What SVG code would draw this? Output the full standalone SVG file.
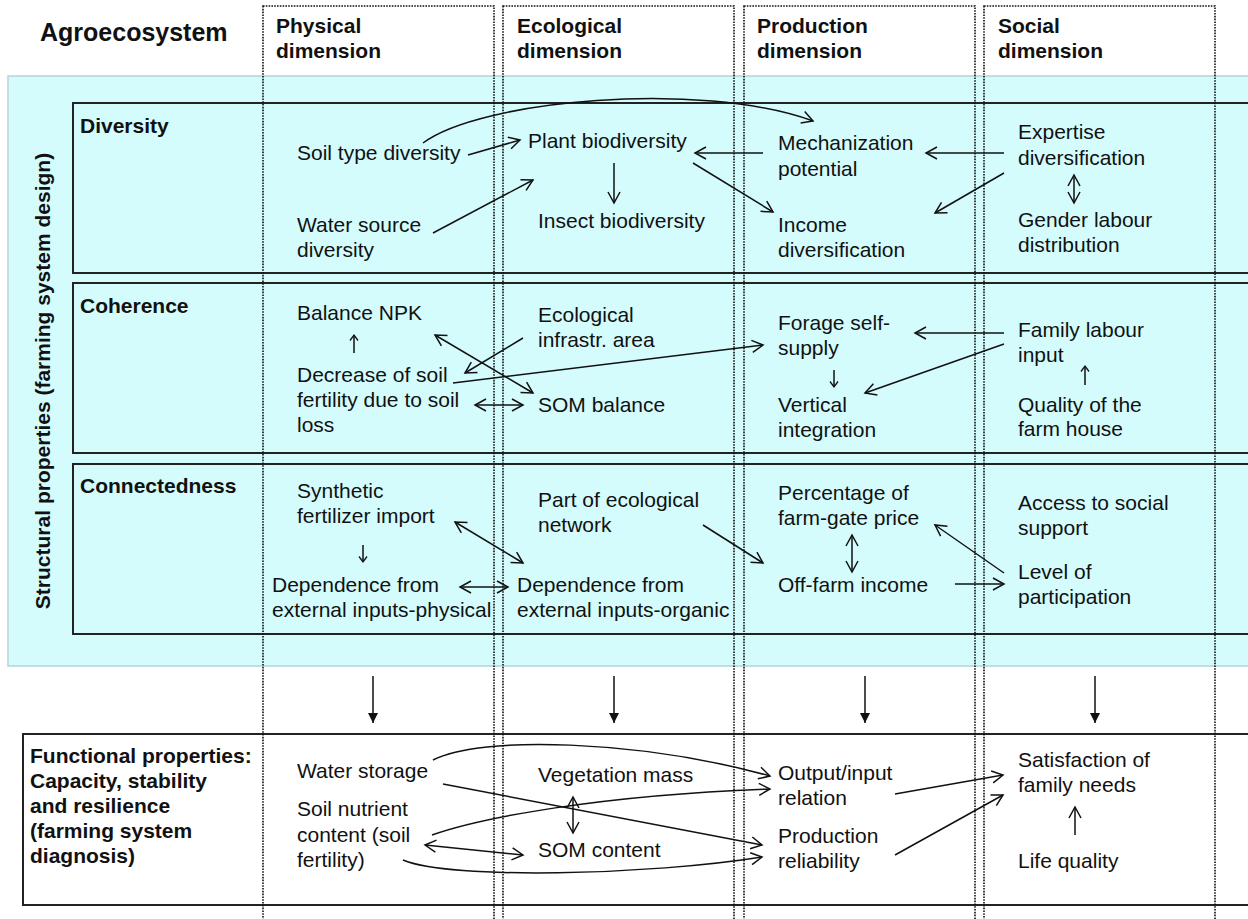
<svg xmlns="http://www.w3.org/2000/svg" width="1248" height="919" viewBox="0 0 1248 919">
<defs>
<style>
.t{font-family:"Liberation Sans",Arial,sans-serif;font-size:21px;fill:#111}
.b{font-weight:bold}
.h{font-size:25px}
.c{fill:none;stroke:#111;stroke-width:1.5}
.dot{fill:none;stroke:#111;stroke-width:1.6;stroke-dasharray:1.6 1.2}
.box{fill:none;stroke:#222;stroke-width:2}
</style>
<marker id="oa" markerUnits="userSpaceOnUse" markerWidth="16" markerHeight="16" refX="12" refY="7" orient="auto-start-reverse" overflow="visible"><path d="M1,1 L12,7 L1,13" fill="none" stroke="#111" stroke-width="1.5"/></marker>
<marker id="sa" markerUnits="userSpaceOnUse" markerWidth="10" markerHeight="10" refX="6" refY="4.5" orient="auto-start-reverse" overflow="visible"><path d="M0.5,0.5 L6,4.5 L0.5,8.5" fill="none" stroke="#111" stroke-width="1.3"/></marker>
<marker id="fa" markerUnits="userSpaceOnUse" markerWidth="12" markerHeight="12" refX="10" refY="5" orient="auto" overflow="visible"><path d="M0,0 L10,5 L0,10 z" fill="#111"/></marker>
</defs>

<rect x="0" y="0" width="1248" height="919" fill="#fff"/>
<g id="structural-panel">
<rect x="8" y="76" width="1260" height="590" fill="#d4fcfd" stroke="#b6d2d8" stroke-width="1.5"/>
<text class="t b" transform="translate(50,381) rotate(-90)" text-anchor="middle">Structural properties (farming system design)</text>
</g>
<g id="row-diversity"><rect class="box" x="73" y="103" width="1200" height="170"/><text class="t b" x="80" y="133">Diversity</text></g>
<g id="row-coherence"><rect class="box" x="73" y="283" width="1200" height="170"/><text class="t b" x="80" y="313">Coherence</text></g>
<g id="row-connectedness"><rect class="box" x="73" y="464" width="1200" height="170"/><text class="t b" x="80" y="493">Connectedness</text></g>
<g id="functional-panel"><rect class="box" x="23" y="734" width="1250" height="171"/>
<text class="t b" x="30" y="763">Functional properties:</text>
<text class="t b" x="30" y="788">Capacity, stability</text>
<text class="t b" x="30" y="813">and resilience</text>
<text class="t b" x="30" y="838">(farming system</text>
<text class="t b" x="30" y="863">diagnosis)</text>
</g>

<g id="title"><text class="t b h" x="40" y="41">Agroecosystem</text></g>
<g id="col-physical"><rect class="dot" x="263" y="6" width="231" height="950"/><text class="t b" x="276" y="33">Physical</text><text class="t b" x="276" y="58">dimension</text></g>
<g id="col-ecological"><rect class="dot" x="503" y="6" width="231" height="950"/><text class="t b" x="517" y="33">Ecological</text><text class="t b" x="517" y="58">dimension</text></g>
<g id="col-production"><rect class="dot" x="744" y="6" width="231" height="950"/><text class="t b" x="757" y="33">Production</text><text class="t b" x="757" y="58">dimension</text></g>
<g id="col-social"><rect class="dot" x="984" y="6" width="231" height="950"/><text class="t b" x="998" y="33">Social</text><text class="t b" x="998" y="58">dimension</text></g>

<g id="n-soil-type"><text class="t" x="297" y="160">Soil type diversity</text></g>
<g id="n-water-source"><text class="t" x="297" y="232">Water source</text><text class="t" x="297" y="257">diversity</text></g>
<g id="n-plant-bio"><text class="t" x="528" y="148">Plant biodiversity</text></g>
<g id="n-insect-bio"><text class="t" x="538" y="228">Insect biodiversity</text></g>
<g id="n-mechanization"><text class="t" x="778" y="150">Mechanization</text><text class="t" x="778" y="176">potential</text></g>
<g id="n-income-div"><text class="t" x="778" y="232">Income</text><text class="t" x="778" y="257">diversification</text></g>
<g id="n-expertise"><text class="t" x="1018" y="139">Expertise</text><text class="t" x="1018" y="165">diversification</text></g>
<g id="n-gender"><text class="t" x="1018" y="227">Gender labour</text><text class="t" x="1018" y="252">distribution</text></g>

<g id="n-npk"><text class="t" x="297" y="320">Balance NPK</text></g>
<g id="n-decrease"><text class="t" x="297" y="382">Decrease of soil</text><text class="t" x="297" y="407">fertility due to soil</text><text class="t" x="297" y="432">loss</text></g>
<g id="n-eco-infra"><text class="t" x="538" y="322">Ecological</text><text class="t" x="538" y="347">infrastr. area</text></g>
<g id="n-som-balance"><text class="t" x="538" y="412">SOM balance</text></g>
<g id="n-forage"><text class="t" x="778" y="330">Forage self-</text><text class="t" x="778" y="355">supply</text></g>
<g id="n-vertical"><text class="t" x="778" y="412">Vertical</text><text class="t" x="778" y="437">integration</text></g>
<g id="n-family-labour"><text class="t" x="1018" y="337">Family labour</text><text class="t" x="1018" y="362">input</text></g>
<g id="n-quality-house"><text class="t" x="1018" y="412">Quality of the</text><text class="t" x="1018" y="436">farm house</text></g>

<g id="n-synthetic"><text class="t" x="297" y="498">Synthetic</text><text class="t" x="297" y="523">fertilizer import</text></g>
<g id="n-dep-physical"><text class="t" x="272" y="592">Dependence from</text><text class="t" x="272" y="617">external inputs-physical</text></g>
<g id="n-eco-network"><text class="t" x="538" y="507">Part of ecological</text><text class="t" x="538" y="532">network</text></g>
<g id="n-dep-organic"><text class="t" x="517" y="592">Dependence from</text><text class="t" x="517" y="617">external inputs-organic</text></g>
<g id="n-farmgate"><text class="t" x="778" y="500">Percentage of</text><text class="t" x="778" y="525">farm-gate price</text></g>
<g id="n-offfarm"><text class="t" x="778" y="592">Off-farm income</text></g>
<g id="n-social-support"><text class="t" x="1018" y="510">Access to social</text><text class="t" x="1018" y="535">support</text></g>
<g id="n-participation"><text class="t" x="1018" y="579">Level of</text><text class="t" x="1018" y="604">participation</text></g>

<g id="n-water-storage"><text class="t" x="297" y="778">Water storage</text></g>
<g id="n-soil-nutrient"><text class="t" x="297" y="816">Soil nutrient</text><text class="t" x="297" y="842">content (soil</text><text class="t" x="297" y="867">fertility)</text></g>
<g id="n-vegetation"><text class="t" x="538" y="782">Vegetation mass</text></g>
<g id="n-som-content"><text class="t" x="538" y="857">SOM content</text></g>
<g id="n-output-input"><text class="t" x="778" y="780">Output/input</text><text class="t" x="778" y="805">relation</text></g>
<g id="n-prod-reliability"><text class="t" x="778" y="843">Production</text><text class="t" x="778" y="868">reliability</text></g>
<g id="n-satisfaction"><text class="t" x="1018" y="767">Satisfaction of</text><text class="t" x="1018" y="792">family needs</text></g>
<g id="n-life-quality"><text class="t" x="1018" y="868">Life quality</text></g>

<g id="connectors">
<path class="c" marker-end="url(#oa)" d="M423,143 C480,100 700,80 813,121"/>
<line class="c" marker-end="url(#oa)" x1="468" y1="155" x2="520" y2="140"/>
<line class="c" marker-end="url(#oa)" x1="433" y1="233" x2="533" y2="180"/>
<line class="c" marker-end="url(#oa)" x1="614" y1="163" x2="614" y2="203"/>
<line class="c" marker-end="url(#oa)" x1="763" y1="153" x2="695" y2="153"/>
<line class="c" marker-end="url(#oa)" x1="693" y1="163" x2="773" y2="212"/>
<line class="c" marker-end="url(#oa)" x1="1004" y1="153" x2="926" y2="153"/>
<line class="c" marker-end="url(#oa)" x1="1004" y1="173" x2="935" y2="213"/>
<line class="c" marker-start="url(#oa)" marker-end="url(#oa)" x1="1074" y1="175" x2="1074" y2="203"/>

<line class="c" marker-end="url(#sa)" x1="354" y1="353" x2="354" y2="335"/>
<line class="c" marker-start="url(#oa)" marker-end="url(#oa)" x1="435" y1="335" x2="533" y2="393"/>
<line class="c" marker-end="url(#oa)" x1="523" y1="338" x2="465" y2="373"/>
<line class="c" marker-end="url(#oa)" x1="453" y1="383" x2="763" y2="345"/>
<line class="c" marker-start="url(#oa)" marker-end="url(#oa)" x1="475" y1="405" x2="523" y2="405"/>
<line class="c" marker-end="url(#oa)" x1="1004" y1="333" x2="915" y2="333"/>
<line class="c" marker-end="url(#oa)" x1="1004" y1="344" x2="865" y2="393"/>
<line class="c" marker-end="url(#sa)" x1="834" y1="370" x2="834" y2="387"/>
<line class="c" marker-end="url(#sa)" x1="1085" y1="385" x2="1085" y2="366"/>

<line class="c" marker-end="url(#sa)" x1="363" y1="545" x2="363" y2="562"/>
<line class="c" marker-start="url(#oa)" marker-end="url(#oa)" x1="455" y1="522" x2="523" y2="563"/>
<line class="c" marker-start="url(#oa)" marker-end="url(#oa)" x1="460" y1="587" x2="508" y2="587"/>
<line class="c" marker-end="url(#oa)" x1="703" y1="525" x2="763" y2="563"/>
<line class="c" marker-start="url(#oa)" marker-end="url(#oa)" x1="852" y1="535" x2="852" y2="572"/>
<line class="c" marker-end="url(#oa)" x1="955" y1="584" x2="1004" y2="584"/>
<line class="c" marker-end="url(#oa)" x1="1004" y1="573" x2="935" y2="525"/>

<line class="c" marker-end="url(#fa)" x1="373" y1="676" x2="373" y2="723"/>
<line class="c" marker-end="url(#fa)" x1="614" y1="676" x2="614" y2="723"/>
<line class="c" marker-end="url(#fa)" x1="865" y1="676" x2="865" y2="723"/>
<line class="c" marker-end="url(#fa)" x1="1095" y1="676" x2="1095" y2="723"/>

<path class="c" marker-end="url(#oa)" d="M433,760 C480,735 640,740 770,776"/>
<line class="c" marker-end="url(#oa)" x1="443" y1="784" x2="762" y2="845"/>
<path class="c" marker-end="url(#oa)" d="M432,835 C480,818 600,795 770,789"/>
<line class="c" marker-start="url(#oa)" marker-end="url(#oa)" x1="425" y1="845" x2="523" y2="855"/>
<path class="c" marker-end="url(#oa)" d="M403,860 C450,880 650,875 762,857"/>
<line class="c" marker-start="url(#oa)" marker-end="url(#oa)" x1="573" y1="797" x2="573" y2="833"/>
<line class="c" marker-end="url(#oa)" x1="895" y1="794" x2="1003" y2="775"/>
<line class="c" marker-end="url(#oa)" x1="895" y1="855" x2="1003" y2="795"/>
<line class="c" marker-end="url(#oa)" x1="1075" y1="835" x2="1075" y2="807"/>
</g>
</svg>
